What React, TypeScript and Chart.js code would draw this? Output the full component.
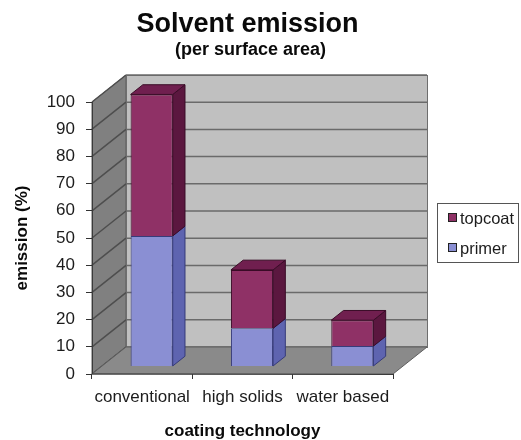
import React, { useEffect, useRef } from "react";
import { Chart, registerables } from "chart.js";

Chart.register(...registerables);

// ---- data ----
const categories = ["conventional", "high solids", "water based"];
const primerValues = [48, 14, 7.5];
const topcoatValues = [52, 21.5, 9.5];
const seriesNames = ["primer", "topcoat"];
const yMin = 0;
const yMax = 100;
const yStep = 10;
const chartTitle = "Solvent emission";
const chartSubtitle = "(per surface area)";
const xAxisTitle = "coating technology";
const yAxisTitle = "emission (%)";

// ---- styling ----
const FONT = "'Liberation Sans', Arial, Helvetica, sans-serif";
const TEXT = "#1c1c1c";
const faces = [
  { front: "#8a8fd3", side: "#5e64b0", top: "#7378c2", edge: "#363b7a" }, // primer
  { front: "#8f3166", side: "#5b173f", top: "#701f4f", edge: "#3a0c27" }, // topcoat
];

// depth of the 3D box and where the bars sit inside it
const DEPTH_X = 34;
const DEPTH_Y = -27;
const BAR_SHIFT = 0.28;
const BAR_DEPTH = 0.36;

const box3d = {
  id: "box3d",
  beforeDraw(chart: any) {
    const { ctx, chartArea } = chart;
    const { left, right, top, bottom } = chartArea;
    const yScale = chart.scales.y;
    ctx.save();
    // left wall
    ctx.beginPath();
    ctx.moveTo(left, top);
    ctx.lineTo(left + DEPTH_X, top + DEPTH_Y);
    ctx.lineTo(left + DEPTH_X, bottom + DEPTH_Y);
    ctx.lineTo(left, bottom);
    ctx.closePath();
    ctx.fillStyle = "#808080";
    ctx.fill();
    ctx.strokeStyle = "#5a5a5a";
    ctx.lineWidth = 1;
    ctx.stroke();
    // back wall
    ctx.fillStyle = "#c0c0c0";
    ctx.fillRect(left + DEPTH_X, top + DEPTH_Y, right - left, bottom - top);
    ctx.strokeStyle = "#6e6e6e";
    ctx.strokeRect(left + DEPTH_X + 0.5, top + DEPTH_Y + 0.5, right - left, bottom - top);
    // gridlines across both walls
    ctx.lineWidth = 1.5;
    yScale.ticks.forEach((t: any) => {
      const py = yScale.getPixelForValue(t.value);
      ctx.beginPath();
      ctx.moveTo(left, py);
      ctx.lineTo(left + DEPTH_X, py + DEPTH_Y);
      ctx.strokeStyle = "#4e4e4e";
      ctx.stroke();
      ctx.beginPath();
      ctx.moveTo(left + DEPTH_X, py + DEPTH_Y);
      ctx.lineTo(right + DEPTH_X, py + DEPTH_Y);
      ctx.strokeStyle = "#6a6a6a";
      ctx.stroke();
    });
    // floor
    ctx.beginPath();
    ctx.moveTo(left, bottom);
    ctx.lineTo(right, bottom);
    ctx.lineTo(right + DEPTH_X, bottom + DEPTH_Y);
    ctx.lineTo(left + DEPTH_X, bottom + DEPTH_Y);
    ctx.closePath();
    ctx.fillStyle = "#8a8a8a";
    ctx.fill();
    ctx.lineWidth = 1;
    ctx.strokeStyle = "#5e5e5e";
    ctx.stroke();
    ctx.restore();
  },
  beforeDatasetsDraw(chart: any) {
    const { ctx } = chart;
    ctx.save();
    ctx.translate(DEPTH_X * BAR_SHIFT, DEPTH_Y * BAR_SHIFT);
  },
  afterDatasetsDraw(chart: any) {
    const { ctx } = chart;
    const dx = DEPTH_X * BAR_DEPTH;
    const dy = DEPTH_Y * BAR_DEPTH;
    const n = chart.data.datasets.length;
    chart.data.datasets.forEach((_: any, di: number) => {
      const meta = chart.getDatasetMeta(di);
      const f = faces[di];
      meta.data.forEach((bar: any) => {
        const { x, y, base, width } = bar.getProps(["x", "y", "base", "width"], true);
        const l = x - width / 2;
        const r = x + width / 2;
        ctx.lineWidth = 1;
        ctx.strokeStyle = f.edge;
        // right side
        ctx.beginPath();
        ctx.moveTo(r, y);
        ctx.lineTo(r + dx, y + dy);
        ctx.lineTo(r + dx, base + dy);
        ctx.lineTo(r, base);
        ctx.closePath();
        ctx.fillStyle = f.side;
        ctx.fill();
        ctx.stroke();
        // top face on the uppermost segment only
        if (di === n - 1) {
          ctx.beginPath();
          ctx.moveTo(l, y);
          ctx.lineTo(r, y);
          ctx.lineTo(r + dx, y + dy);
          ctx.lineTo(l + dx, y + dy);
          ctx.closePath();
          ctx.fillStyle = f.top;
          ctx.fill();
          ctx.stroke();
        }
      });
    });
    ctx.restore();
  },
  afterDraw(chart: any) {
    const { ctx, chartArea } = chart;
    const { left, right, top, bottom } = chartArea;
    ctx.save();
    // front axis edges
    ctx.strokeStyle = "#3a3a3a";
    ctx.lineWidth = 1;
    ctx.beginPath();
    ctx.moveTo(left + 0.5, top);
    ctx.lineTo(left + 0.5, bottom);
    ctx.lineTo(right, bottom + 0.5);
    ctx.stroke();

    // titles
    const cx = (left + right) / 2 + 5;
    ctx.fillStyle = "#0a0a0a";
    ctx.textAlign = "center";
    ctx.textBaseline = "alphabetic";
    ctx.font = `bold 27px ${FONT}`;
    ctx.fillText(chartTitle, cx, 32);
    ctx.font = `bold 18px ${FONT}`;
    ctx.fillText(chartSubtitle, cx + 3, 55);

    // legend (topcoat listed first)
    const lx = 437, ly = 203, lw = 81, lh = 59;
    ctx.strokeStyle = "#555";
    ctx.strokeRect(lx + 0.5, ly + 0.5, lw, lh);
    ctx.font = `16.5px ${FONT}`;
    ctx.textAlign = "left";
    const order = [1, 0];
    order.forEach((di, k) => {
      const f = faces[di];
      const by = 224 + k * 30;
      ctx.fillStyle = f.front;
      ctx.fillRect(448, by - 11, 9, 9);
      ctx.strokeStyle = "#222";
      ctx.strokeRect(448.5, by - 10.5, 8, 8);
      ctx.fillStyle = TEXT;
      ctx.fillText(chart.data.datasets[di].label, 460, by);
    });
    ctx.restore();
  },
};

export default function App() {
  const canvasRef = useRef<HTMLCanvasElement | null>(null);

  useEffect(() => {
    if (!canvasRef.current) return;
    const chart = new Chart(canvasRef.current, {
      type: "bar",
      data: {
        labels: categories,
        datasets: [
          {
            label: seriesNames[0],
            data: primerValues,
            backgroundColor: faces[0].front,
            borderColor: faces[0].edge,
            borderWidth: 1,
            clip: false as any,
          },
          {
            label: seriesNames[1],
            data: topcoatValues,
            backgroundColor: faces[1].front,
            borderColor: faces[1].edge,
            borderWidth: 1,
            clip: false as any,
          },
        ],
      },
      options: {
        responsive: false,
        animation: false,
        devicePixelRatio: 1,
        categoryPercentage: 1,
        barPercentage: 0.42,
        layout: { padding: { top: 102, right: 128, left: 0, bottom: 0 } },
        plugins: {
          legend: { display: false },
          title: { display: false },
          tooltip: { enabled: false },
        },
        scales: {
          x: {
            stacked: true,
            offset: true,
            afterFit: (s: any) => {
              s.height = 66;
            },
            grid: {
              offset: true,
              drawOnChartArea: false,
              drawTicks: true,
              tickLength: 5,
              color: "#333",
            },
            border: { display: false },
            ticks: {
              color: TEXT,
              padding: 8,
              autoSkip: false,
              maxRotation: 0,
              minRotation: 0,
              font: { family: FONT, size: 17 },
            },
            title: {
              display: true,
              text: xAxisTitle,
              color: "#0a0a0a",
              font: { family: FONT, size: 17, weight: "bold" },
              padding: { top: 0, bottom: -2 },
            },
          },
          y: {
            stacked: true,
            min: yMin,
            max: yMax,
            afterFit: (s: any) => {
              s.width = 92;
            },
            ticks: {
              stepSize: yStep,
              color: TEXT,
              padding: 11,
              font: { family: FONT, size: 17 },
            },
            grid: {
              drawOnChartArea: false,
              drawTicks: true,
              tickLength: 6,
              color: "#333",
            },
            border: { display: false },
            title: {
              display: true,
              text: yAxisTitle,
              color: "#0a0a0a",
              font: { family: FONT, size: 17, weight: "bold" },
              padding: { top: 12, bottom: 0 },
            },
          },
        },
      },
      plugins: [box3d],
    });
    return () => chart.destroy();
  }, []);

  return (
    <div style={{ position: "absolute", left: 0, top: 0, width: 521, height: 440, background: "#fff" }}>
      <canvas ref={canvasRef} width={521} height={440} style={{ width: 521, height: 440 }} />
    </div>
  );
}
